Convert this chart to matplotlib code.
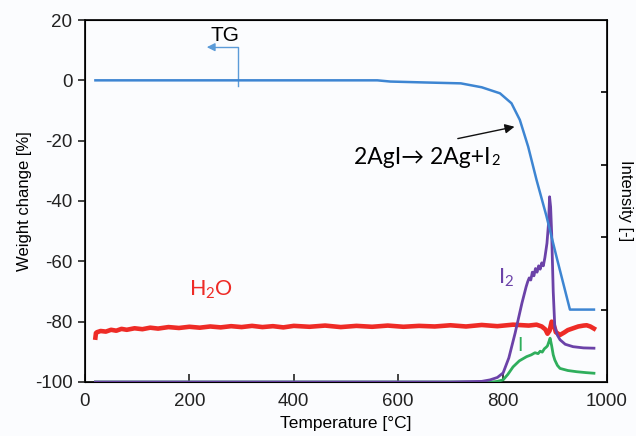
import numpy as np
import matplotlib.pyplot as plt

# --- data ---
tg_temp = [20, 100, 200, 300, 400, 500, 560, 585, 650, 720, 760, 795, 817, 833, 849, 865, 884, 904, 929, 975]
tg_weight = [0, 0, 0, 0, 0, 0, 0, -0.4, -0.7, -1.0, -2.3, -4.3, -7.6, -13.1, -22, -33, -45, -59, -76, -76]

h2o_temp = [20, 21, 23, 30, 40, 50, 60, 70, 80, 95, 110, 125, 140, 160, 180, 200, 220, 240, 260,
            280, 300, 320, 340, 360, 380, 400, 430, 460, 490, 520, 550, 580, 610, 640, 670, 700,
            730, 760, 790, 820, 850, 865, 875, 882, 886, 890, 894, 897, 902, 910, 918, 925, 935,
            945, 955, 961, 968, 975]
h2o_sig = [-85.3, -83.8, -83.5, -83.1, -83.3, -82.7, -83.0, -82.4, -82.7, -82.2, -82.5, -82.0, -82.3,
           -81.8, -82.1, -81.7, -82.0, -81.6, -81.9, -81.5, -81.8, -81.4, -81.8, -81.5, -81.9,
           -81.4, -81.7, -81.3, -81.8, -81.4, -81.7, -81.3, -81.7, -81.4, -81.6, -81.2, -81.6,
           -81.1, -81.5, -81.0, -81.3, -81.0, -81.6, -82.6, -84.0, -83.0, -80.0, -80.5, -83.5,
           -84.4, -83.6, -82.8, -82.2, -81.6, -81.3, -81.2, -81.6, -82.3]

i2_temp = [20, 700, 760, 776, 790, 801, 812, 824, 837, 845, 848, 851, 854, 857, 860, 863, 866, 869,
           872, 875, 878, 881, 885, 888, 890, 892, 894, 897, 900, 905, 910, 920, 935, 955, 975]
i2_sig = [-100, -100, -99.8, -99.3, -98.5, -97, -92, -83.8, -73.9, -68.5, -66.8, -65.5, -66.2, -63.6,
          -64.8, -62.4, -63.6, -61.5, -62.6, -60.5, -61.5, -58.8, -54, -47.4, -38.6, -42, -50.7,
          -70, -81.7, -84.5, -86, -87.5, -88.3, -88.7, -88.8]

i_temp = [20, 780, 790, 801, 810, 820, 832, 846, 855, 862, 868, 872, 876, 880, 884, 886, 889, 891,
          894, 897, 900, 905, 910, 925, 942, 960, 975]
i_sig = [-100, -100, -99.8, -99.3, -97.5, -95, -93, -91.6, -91.0, -90.3, -90.6, -89.8, -90.1, -89.0,
         -88.4, -88.0, -86.5, -85.5, -88, -91, -92.7, -94.5, -95.5, -96.2, -96.6, -96.9, -97.1]

plt.rcParams['font.family'] = ['Liberation Sans', 'DejaVu Sans']
plt.rcParams['axes.unicode_minus'] = False
plt.rcParams['mathtext.fontset'] = 'custom'
plt.rcParams['mathtext.rm'] = 'Lato'
plt.rcParams['mathtext.it'] = 'Lato'

bg = '#fbfcfe'
fig = plt.figure(figsize=(6.36, 4.36), dpi=100, facecolor=bg)
ax = fig.add_axes([0.1336, 0.1239, 0.8208, 0.8302])
ax.set_facecolor(bg)

ax.plot(h2o_temp, h2o_sig, color='#ee2b26', lw=3.3, zorder=2)
ax.plot(i_temp, i_sig, color='#2fae5c', lw=2.0, zorder=3)
ax.plot(i2_temp, i2_sig, color='#6b42a8', lw=2.0, zorder=3)
ax.plot(tg_temp, tg_weight, color='#3d85d2', lw=1.8, zorder=4)

ax.set_xlim(0, 1000)
ax.set_ylim(-100, 20)
ax.set_xticks([0, 200, 400, 600, 800, 1000])
ax.set_yticks([20, 0, -20, -40, -60, -80, -100])
ax.tick_params(axis='x', direction='in', length=6, width=1.2, labelsize=13.5, pad=8, colors='#222222')
ax.tick_params(axis='y', direction='out', length=5, width=1.2, labelsize=13.5, pad=4, colors='#222222')
for s in ax.spines.values():
    s.set_linewidth(1.3)
    s.set_color('#111111')

ax.set_xlabel('Temperature [°C]', fontsize=12.5, labelpad=4)
ax.set_ylabel('Weight change [%]', fontsize=12, labelpad=2)

ax2 = ax.twinx()
ax2.set_ylim(0, 5)
ax2.set_yticks([1, 2, 3, 4])
ax2.tick_params(axis='y', direction='in', length=4, width=1.2, labelright=False)
ax2.set_ylabel('Intensity [-]', fontsize=12, rotation=-90, labelpad=19)

# annotations
cal = ['Lato', 'DejaVu Sans']
ax.text(268, 15, 'TG', fontsize=15, ha='center', va='center')
ax.plot([293, 293, 245], [-2, 11, 11], color='#5b9bd8', lw=1.0)
ax.annotate('', xy=(228, 11), xytext=(248, 11),
            arrowprops=dict(arrowstyle='-|>', color='#5b9bd8', lw=1.0, mutation_scale=12))

eq = ax.text(516, -27.8, '2AgI\u2192 2Ag+I', fontsize=16.5, family=cal, ha='left', va='baseline')
ax.annotate('2', xy=(1.0, 0.0), xycoords=eq, fontsize=10.5, family=cal, ha='left', va='bottom')
ax.annotate('', xy=(828, -15.2), xytext=(709, -19.5),
            arrowprops=dict(arrowstyle='-|>', color='#111111', lw=1.0, mutation_scale=14))

ax.text(241, -69.5, 'H$_2$O', fontsize=15.5, family=cal, color='#ee2b26', ha='center', va='center')
ax.text(807, -65.5, 'I$_2$', fontsize=15.5, family=cal, color='#6b42a8', ha='center', va='center')
ax.text(833, -88, 'I', fontsize=14, family=cal, color='#2fae5c', ha='center', va='center')

fig.savefig('out.png', dpi=100, facecolor=bg)
